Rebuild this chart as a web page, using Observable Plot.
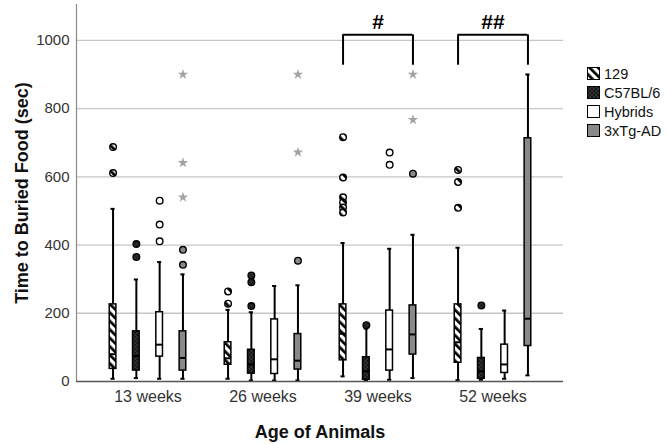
<!DOCTYPE html>
<html><head><meta charset="utf-8">
<script src="https://cdn.jsdelivr.net/npm/d3@7"></script>
<script src="https://cdn.jsdelivr.net/npm/@observablehq/plot@0.6"></script>
<style>
body{margin:0;background:#fff;font-family:"Liberation Sans",Arial,sans-serif;}
#wrap{position:relative;width:666px;height:444px;overflow:hidden;}
#legend{position:absolute;left:587px;top:64px;font-size:14.5px;color:#111;}
#legend .row{display:flex;align-items:center;height:19px;}
#legend svg{margin-right:4px;}
</style></head><body><div id="wrap"><div id="legend"></div></div>
<script>
// ---- data ----
const weeks = ["13 weeks", "26 weeks", "39 weeks", "52 weeks"];
const strains = ["129", "C57BL/6", "Hybrids", "3xTg-AD"];
// order: week-major, strain order as above
const whiskerLow  = [8, 10, 8, 8,    8, 3, 3, 3,      15, 3, 5, 10,     4, 5, 8, 18];
const quart1      = [37, 32, 73, 32, 49, 23, 22, 35,  62, 5, 32, 79,    55, 8, 25, 104];
const medians     = [80, 75, 108, 69, 68, 50, 65, 61, 140, 30, 94, 138, 115, 30, 50, 184];
const quart3      = [226, 147, 203, 147, 115, 93, 182, 139, 226, 71, 208, 223, 226, 69, 108, 713];
const whiskerHigh = [506, 299, 350, 314, 210, 203, 280, 282, 406, 155, 389, 430, 392, 154, 208, 900];
// outliers: [weekIndex, strainIndex, value]
const outliers = [
  [0,0,687],[0,0,611],[0,1,403],[0,1,365],[0,2,530],[0,2,460],[0,2,411],[0,3,386],[0,3,342],
  [1,0,264],[1,0,228],[1,1,311],[1,1,291],[1,1,221],[1,3,354],
  [2,0,716],[2,0,598],[2,0,540],[2,0,525],[2,0,510],[2,0,495],[2,1,165],[2,2,671],[2,2,635],[2,3,609],
  [3,0,620],[3,0,585],[3,0,509],[3,1,223]
];
// extreme values (stars): [weekIndex, strainIndex, value]
const extremes = [[0,3,900],[0,3,641],[0,3,540],[1,3,900],[1,3,672],[2,3,900],[2,3,767]];
const yTicks = [0, 200, 400, 600, 800, 1000];
const brackets = [{week: "39 weeks", label: "#"}, {week: "52 weeks", label: "##"}];
const bracketTop = 1016, bracketFoot = 927, bracketLabelY = 1052;
const yLabel = "Time to Buried Food (sec)";
const xLabel = "Age of Animals";

// ---- styles ----
const fills = ["url(#p129)", "url(#pC57)", "#ffffff", "#898989"];
const width = 666, height = 444, mL = 76, mR = 103, mT = 4, mB = 63;
const xOpts = {type: "band", domain: weeks, paddingInner: 0, paddingOuter: 0.111};
const bw = Plot.scale({x: {...xOpts, range: [mL, width - mR]}}).bandwidth;
const step = 23.3, boxW = 7, capW = 4.5;
const off = i => (i - 1.5) * step;
const boxInset = (bw - boxW) / 2, capInset = (bw - capW) / 2;

const boxes = weeks.flatMap((w, wi) => strains.map((s, si) => ({
  week: w, strain: s, si,
  lo: whiskerLow[wi*4+si], q1: quart1[wi*4+si], med: medians[wi*4+si],
  q3: quart3[wi*4+si], hi: whiskerHigh[wi*4+si]
})));
const outTable = outliers.map(([wi, si, v]) => ({week: weeks[wi], si, value: v}));
const extTable = extremes.map(([wi, si, v]) => ({week: weeks[wi], si, value: v}));

const strainMarks = strains.flatMap((s, si) => {
  const b = boxes.filter(d => d.si === si);
  const o = outTable.filter(d => d.si === si);
  const e = extTable.filter(d => d.si === si);
  return [
    Plot.ruleX(b, {x: "week", y1: "lo", y2: "hi", dx: off(si), stroke: "#000", strokeWidth: 2}),
    Plot.tickY(b, {x: "week", y: "lo", dx: off(si), insetLeft: capInset, insetRight: capInset, stroke: "#000", strokeWidth: 2}),
    Plot.tickY(b, {x: "week", y: "hi", dx: off(si), insetLeft: capInset, insetRight: capInset, stroke: "#000", strokeWidth: 2}),
    Plot.barY(b, {x: "week", y1: "q1", y2: "q3", dx: off(si), insetLeft: boxInset, insetRight: boxInset, fill: fills[si], stroke: "#000", strokeWidth: 1.5}),
    Plot.tickY(b, {x: "week", y: "med", dx: off(si), insetLeft: boxInset, insetRight: boxInset, stroke: "#000", strokeWidth: 2}),
    Plot.dot(o, {x: "week", y: "value", dx: off(si), r: 3.3, fill: fills[si], stroke: "#000", strokeWidth: 1.4}),
    Plot.dot(e, {x: "week", y: "value", dx: off(si), r: 3.3, symbol: "star", fill: "#a3a3a3", stroke: "none"})
  ];
});

const chart = Plot.plot({
  width, height, marginLeft: mL, marginRight: mR, marginTop: mT, marginBottom: mB,
  style: {fontFamily: "'Liberation Sans', Arial, sans-serif", background: "transparent"},
  x: {...xOpts, axis: null},
  y: {domain: [0, 1105], axis: null},
  marks: [
    Plot.gridY(yTicks.filter(t => t > 0), {stroke: "#c6c6c6", strokeOpacity: 1, strokeWidth: 1.3}),
    Plot.axisY(yTicks, {tickSize: 0, tickPadding: 7, fontSize: 15, fill: "#333", label: null, tickFormat: d => String(d)}),
    Plot.axisX({tickSize: 0, tickPadding: 9, fontSize: 16, fill: "#333", label: null}),
    Plot.frame({anchor: "left", stroke: "#8a8a8a", strokeWidth: 1.2}),
    ...strainMarks,
    Plot.ruleY([0], {stroke: "#555", strokeWidth: 1.6}),
    Plot.tickY(brackets, {x: "week", y: () => bracketTop, dx: (off(0) + off(3)) / 2, insetLeft: (bw - (off(3) - off(0))) / 2, insetRight: (bw - (off(3) - off(0))) / 2, stroke: "#000", strokeWidth: 2}),
    Plot.ruleX(brackets, {x: "week", y1: () => bracketFoot, y2: () => bracketTop, dx: off(0), stroke: "#000", strokeWidth: 2}),
    Plot.ruleX(brackets, {x: "week", y1: () => bracketFoot, y2: () => bracketTop, dx: off(3), stroke: "#000", strokeWidth: 2}),
    Plot.text(brackets, {x: "week", y: () => bracketLabelY, text: "label", fontSize: 21, fontWeight: "bold", fill: "#000"}),
    Plot.text([yLabel], {frameAnchor: "left", textAnchor: "middle", dx: -54, rotate: -90, fontSize: 18, fontWeight: "bold", fill: "#111"}),
    Plot.text([xLabel], {frameAnchor: "bottom", textAnchor: "middle", dy: 56, fontSize: 18, fontWeight: "bold", fill: "#111"})
  ]
});

d3.select(chart).insert("defs", ":first-child").html(`
  <pattern id="p129" patternUnits="userSpaceOnUse" width="6" height="6" patternTransform="rotate(-45)">
    <rect width="6" height="6" fill="#fff"/><rect width="2.7" height="6" fill="#000"/>
  </pattern>
  <pattern id="pC57" patternUnits="userSpaceOnUse" width="4" height="4">
    <rect width="4" height="4" fill="#161616"/>
    <rect x="0.5" y="0.5" width="1" height="1" fill="#8a8a8a"/>
    <rect x="2.5" y="2.5" width="1" height="1" fill="#8a8a8a"/>
  </pattern>`);
document.getElementById("wrap").prepend(chart);
chart.style.position = "absolute"; chart.style.left = "0"; chart.style.top = "0";

const legend = d3.select("#legend");
strains.forEach((s, si) => {
  const row = legend.append("div").attr("class", "row");
  row.append("svg").attr("width", 13).attr("height", 13)
    .append("rect").attr("x", 0.5).attr("y", 0.5).attr("width", 12).attr("height", 12)
    .attr("fill", fills[si]).attr("stroke", "#000").attr("stroke-width", 1);
  row.append("span").text(s);
});
</script></body></html>
